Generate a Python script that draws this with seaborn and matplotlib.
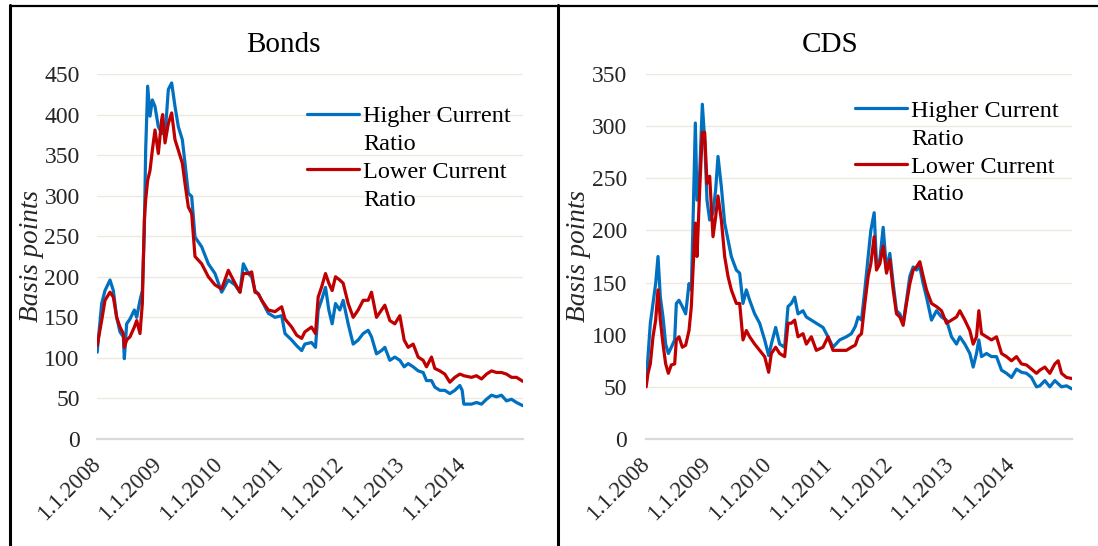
import matplotlib
matplotlib.use("Agg")
import matplotlib.pyplot as plt
from matplotlib.lines import Line2D
import pandas as pd
import seaborn as sns

# ---- data: spreads in basis points ----
bond_dates = [
    "2008-01-02", "2008-01-29", "2008-02-18", "2008-03-19", "2008-04-08", "2008-04-28",
    "2008-05-18", "2008-06-07", "2008-06-13", "2008-06-27", "2008-07-17", "2008-08-12",
    "2008-08-26", "2008-09-15", "2008-09-29", "2008-10-11", "2008-10-19", "2008-10-31",
    "2008-11-14", "2008-11-28", "2008-12-14", "2009-01-03", "2009-01-23", "2009-01-29",
    "2009-02-12", "2009-03-04", "2009-03-24", "2009-04-13", "2009-05-03", "2009-05-27",
    "2009-06-12", "2009-07-02", "2009-07-22", "2009-08-11", "2009-09-20", "2009-10-30",
    "2009-12-09", "2010-01-18", "2010-02-27", "2010-04-08", "2010-05-08", "2010-05-28",
    "2010-06-27", "2010-07-17", "2010-08-06", "2010-08-26", "2010-09-15", "2010-10-25",
    "2010-12-04", "2011-01-13", "2011-02-02", "2011-03-14", "2011-04-13", "2011-05-13",
    "2011-06-01", "2011-07-11", "2011-08-04", "2011-08-20", "2011-09-09", "2011-10-03",
    "2011-10-23", "2011-11-12", "2011-12-02", "2011-12-28", "2012-01-17", "2012-02-16",
    "2012-03-17", "2012-04-16", "2012-05-16", "2012-06-15", "2012-07-05", "2012-08-04",
    "2012-09-03", "2012-09-23", "2012-10-23", "2012-11-22", "2012-12-22", "2013-01-17",
    "2013-02-10", "2013-03-12", "2013-04-11", "2013-05-11", "2013-05-31", "2013-06-30",
    "2013-07-20", "2013-08-19", "2013-09-18", "2013-10-18", "2013-11-17", "2013-12-17",
    "2013-12-31", "2014-01-10", "2014-02-25", "2014-03-27", "2014-04-26", "2014-05-26",
    "2014-06-25", "2014-07-25", "2014-08-24", "2014-09-23", "2014-10-23", "2014-11-22",
    "2014-12-31",
]
bond_higher = [
    107, 167, 183, 196, 183, 150, 132, 126, 99, 142, 148, 159,
    150, 171, 183, 257, 356, 435, 398, 418, 410, 385, 377, 380,
    373, 431, 439, 410, 385, 369, 340, 303, 299, 249, 237, 216,
    204, 181, 196, 190, 181, 216, 204, 200, 183, 179, 171, 155,
    150, 152, 130, 122, 115, 109, 117, 119, 113, 159, 171, 187,
    159, 142, 167, 159, 171, 142, 117, 122, 130, 134, 126, 105,
    109, 113, 97, 101, 97, 89, 93, 89, 84, 82, 72, 72,
    64, 60, 60, 56, 60, 66, 60, 43, 43, 45, 43, 49,
    54, 52, 54, 47, 49, 45, 41,
]
bond_lower = [
    115, 146, 171, 181, 175, 150, 138, 130, 113, 122, 126, 138,
    146, 130, 167, 270, 295, 319, 331, 356, 381, 352, 394, 400,
    365, 389, 402, 369, 356, 340, 315, 286, 278, 225, 216, 200,
    190, 185, 208, 192, 181, 204, 204, 206, 181, 179, 171, 159,
    157, 163, 148, 138, 128, 124, 132, 138, 130, 175, 187, 204,
    192, 183, 200, 196, 192, 167, 150, 159, 171, 171, 181, 150,
    159, 165, 146, 142, 152, 122, 113, 117, 101, 97, 89, 101,
    87, 84, 80, 70, 76, 80, 79, 78, 76, 78, 74, 80,
    84, 82, 82, 80, 76, 76, 71,
]

cds_dates = [
    "2008-01-02", "2008-01-13", "2008-01-27", "2008-02-12", "2008-02-28", "2008-03-13",
    "2008-03-27", "2008-04-12", "2008-04-28", "2008-05-14", "2008-06-01", "2008-06-21",
    "2008-07-01", "2008-07-17", "2008-08-06", "2008-08-26", "2008-09-15", "2008-09-29",
    "2008-10-09", "2008-10-23", "2008-11-02", "2008-11-18", "2008-12-04", "2008-12-18",
    "2009-01-01", "2009-01-17", "2009-02-06", "2009-02-22", "2009-03-08", "2009-03-28",
    "2009-04-17", "2009-05-07", "2009-05-27", "2009-06-26", "2009-07-16", "2009-08-05",
    "2009-08-25", "2009-09-14", "2009-10-14", "2009-11-13", "2009-12-13", "2010-01-06",
    "2010-01-22", "2010-02-17", "2010-03-13", "2010-04-12", "2010-05-02", "2010-05-22",
    "2010-06-11", "2010-07-01", "2010-07-31", "2010-08-20", "2010-09-19", "2010-10-19",
    "2010-11-28", "2010-12-28", "2011-01-27", "2011-03-08", "2011-04-17", "2011-05-17",
    "2011-06-10", "2011-06-27", "2011-07-17", "2011-08-06", "2011-08-26", "2011-09-11",
    "2011-10-01", "2011-10-15", "2011-11-04", "2011-11-24", "2011-12-14", "2012-01-03",
    "2012-01-23", "2012-02-12", "2012-03-03", "2012-03-23", "2012-04-12", "2012-05-02",
    "2012-05-22", "2012-06-11", "2012-07-01", "2012-07-21", "2012-08-10", "2012-09-09",
    "2012-10-09", "2012-11-08", "2012-12-08", "2013-01-07", "2013-02-06", "2013-02-26",
    "2013-03-28", "2013-04-27", "2013-05-17", "2013-06-06", "2013-06-20", "2013-07-06",
    "2013-08-05", "2013-09-04", "2013-10-04", "2013-11-03", "2013-12-03", "2014-01-02",
    "2014-02-01", "2014-03-03", "2014-04-02", "2014-05-02", "2014-06-01", "2014-06-21",
    "2014-07-21", "2014-08-20", "2014-09-19", "2014-10-09", "2014-10-29", "2014-11-28",
    "2014-12-31",
]
cds_higher = [
    53, 79, 111, 130, 149, 175, 136, 117, 91, 82, 88, 95,
    130, 133, 127, 120, 149, 143, 207, 303, 229, 255, 321, 287,
    229, 210, 217, 239, 271, 242, 207, 191, 175, 162, 159, 130,
    143, 133, 120, 111, 95, 80, 91, 107, 91, 88, 127, 130,
    136, 120, 123, 117, 114, 111, 107, 98, 88, 95, 98, 101,
    108, 117, 114, 143, 175, 200, 217, 168, 172, 203, 162, 178,
    149, 123, 120, 111, 133, 156, 165, 162, 165, 149, 136, 114,
    123, 117, 114, 98, 91, 98, 91, 82, 69, 82, 95, 79,
    82, 79, 79, 66, 63, 59, 67, 64, 63, 59, 50, 51,
    56, 50, 56, 53, 50, 51, 48,
]
cds_lower = [
    50, 63, 72, 98, 114, 143, 114, 91, 72, 63, 71, 72,
    95, 98, 88, 90, 104, 127, 162, 207, 175, 239, 294, 294,
    245, 252, 194, 213, 233, 210, 175, 156, 143, 130, 130, 95,
    104, 98, 91, 85, 79, 64, 82, 88, 82, 79, 111, 111,
    114, 98, 101, 91, 98, 85, 88, 98, 85, 85, 85, 88,
    90, 98, 101, 130, 156, 168, 194, 162, 168, 185, 159, 172,
    143, 120, 117, 109, 130, 149, 162, 165, 170, 156, 143, 130,
    127, 123, 111, 114, 117, 123, 114, 104, 91, 98, 123, 101,
    98, 95, 98, 82, 79, 75, 79, 72, 71, 67, 63, 66,
    69, 63, 72, 75, 63, 59, 58,
]

series_names = ["Higher Current Ratio", "Lower Current Ratio"]
legend_rows = ["Higher Current", "Ratio", "Lower Current", "Ratio"]
panel_titles = ["Bonds", "CDS"]
y_label = "Basis points"
year_ticks = ["2008-01-01", "2009-01-01", "2010-01-01", "2011-01-01",
              "2012-01-01", "2013-01-01", "2014-01-01"]
year_labels = ["1.1.2008", "1.1.2009", "1.1.2010", "1.1.2011",
               "1.1.2012", "1.1.2013", "1.1.2014"]

BLUE = "#0070C0"
RED = "#C00000"
GRID = "#ECE9DF"
AXIS = "#D9D9D9"

sns.set_theme(style="white")
plt.rcParams["font.family"] = ["Liberation Serif", "DejaVu Serif"]
plt.rcParams["text.color"] = "black"


def long_frame(dates, higher, lower):
    d = pd.to_datetime(dates)
    return pd.concat([
        pd.DataFrame({"date": d, "bp": higher, "series": series_names[0]}),
        pd.DataFrame({"date": d, "bp": lower, "series": series_names[1]}),
    ], ignore_index=True)


fig = plt.figure(figsize=(10.98, 5.46), dpi=100)
W, H = 1098, 546

panels = [
    dict(frame=long_frame(bond_dates, bond_higher, bond_lower), left=97, ymax=450,
         title_x=283, ytick_pad=12.5, label_x=-0.125, leg=(0.493, 0.915)),
    dict(frame=long_frame(cds_dates, cds_higher, cds_lower), left=646, ymax=350,
         title_x=830, ytick_pad=13.5, label_x=-0.128, leg=(0.491, 0.929)),
]

for p, title in zip(panels, panel_titles):
    ax = fig.add_axes([p["left"] / W, 1 - 439 / H, 426 / W, 365 / H])
    sns.lineplot(data=p["frame"], x="date", y="bp", hue="series",
                 palette=[BLUE, RED], linewidth=2.3, legend=False, ax=ax)
    ax.set_xlim(pd.Timestamp("2008-01-01"), pd.Timestamp("2014-12-31"))
    ax.set_ylim(0, p["ymax"])
    ax.set_yticks(range(0, p["ymax"] + 1, 50))
    ax.set_xticks(pd.to_datetime(year_ticks))
    ax.set_xticklabels(year_labels, rotation=45, ha="right", va="center",
                       rotation_mode="anchor")
    ax.tick_params(axis="x", length=0, pad=16, labelsize=16.5)
    ax.tick_params(axis="y", length=0, pad=p["ytick_pad"], labelsize=17)
    ax.yaxis.grid(True, color=GRID, linewidth=1.0)
    ax.set_axisbelow(True)
    for side in ["left", "right", "top"]:
        ax.spines[side].set_visible(False)
    ax.spines["bottom"].set_color(AXIS)
    ax.spines["bottom"].set_linewidth(1.6)
    ax.set_xlabel("")
    ax.set_ylabel(y_label, fontsize=19.5, style="italic")
    ax.yaxis.set_label_coords(p["label_x"], 0.5)

    lines = ax.get_lines()
    blank = Line2D([], [], color="none")
    ax.legend([lines[0], blank, lines[1], blank], legend_rows,
              loc="upper left", bbox_to_anchor=p["leg"], frameon=False,
              fontsize=17.5, handlelength=2.15, handletextpad=0.15,
              labelspacing=0.24, borderpad=0, borderaxespad=0)

    fig.text(p["title_x"] / W, 1 - 45 / H, title, fontsize=21,
             ha="center", va="center")

# panel frames
fig.add_artist(Line2D([9.5 / W, 9.5 / W], [0, 1 - 5 / H], color="black",
                      lw=2.2, transform=fig.transFigure))
fig.add_artist(Line2D([9.5 / W, 1], [1 - 5.5 / H, 1 - 5.5 / H], color="black",
                      lw=1.6, transform=fig.transFigure))
fig.add_artist(Line2D([557.5 / W, 557.5 / W], [0, 1 - 5 / H], color="black",
                      lw=2.2, transform=fig.transFigure))

fig.savefig("out.png", dpi=100)
